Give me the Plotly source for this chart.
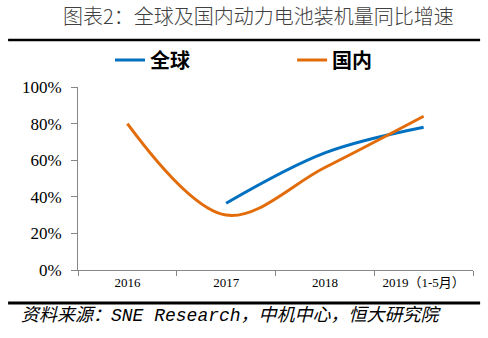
import plotly.graph_objects as go

categories = ["2016", "2017", "2018", "2019（1-5月）"]
global_growth = [None, 0.365, 0.64, 0.78]
domestic_growth = [0.80, 0.30, 0.56, 0.84]
y_ticks = [0, 0.2, 0.4, 0.6, 0.8, 1.0]
y_tick_labels = ["0%", "20%", "40%", "60%", "80%", "100%"]

fig = go.Figure()
fig.add_trace(go.Scatter(x=categories, y=global_growth, name="全球", mode="lines",
                         line=dict(color="#0070C0", width=3, shape="spline", smoothing=1.0),
                         connectgaps=False, legend="legend"))
fig.add_trace(go.Scatter(x=categories, y=domestic_growth, name="国内", mode="lines",
                         line=dict(color="#E36C0A", width=3, shape="spline", smoothing=1.0),
                         legend="legend2"))

legend_font = dict(family="Noto Sans CJK SC", size=20, color="#000", weight="bold")

fig.update_layout(
    width=488, height=338,
    margin=dict(l=78, r=15, t=87, b=68),
    plot_bgcolor="white", paper_bgcolor="white",
    showlegend=True,
    legend=dict(orientation="h", x=0.081, y=1.148, xanchor="left", yanchor="middle",
                font=legend_font, bgcolor="rgba(0,0,0,0)"),
    legend2=dict(orientation="h", x=0.542, y=1.148, xanchor="left", yanchor="middle",
                 font=legend_font, bgcolor="rgba(0,0,0,0)"),
    xaxis=dict(type="category", range=[-0.5, 3.5], showline=True, linecolor="#878787",
               linewidth=1, ticks="outside", tickson="boundaries", ticklen=5,
               tickcolor="#878787", showgrid=False,
               tickfont=dict(family="Liberation Serif, Noto Sans CJK SC", size=13, color="#000")),
    yaxis=dict(range=[0, 1.0], tickvals=y_ticks, ticktext=y_tick_labels, showline=True,
               linecolor="#878787", linewidth=1, ticks="outside", ticklen=6,
               tickcolor="#878787", showgrid=False, zeroline=False, ticklabelstandoff=6,
               tickfont=dict(family="Liberation Serif", size=17, color="#000")),
    annotations=[
        dict(text="图表2：全球及国内动力电池装机量同比增速", xref="paper", yref="paper",
             x=0.456, y=1.39, xanchor="center", yanchor="middle", showarrow=False,
             font=dict(family="Noto Sans CJK SC", size=20, color="#404040", weight=300)),
        dict(text="<i>资料来源：SNE Research，中机中心，恒大研究院</i>", xref="paper", yref="paper",
             x=-0.15, y=-0.246, xanchor="left", yanchor="middle", showarrow=False,
             font=dict(family="Liberation Mono, Noto Sans CJK SC", size=18, color="#000")),
    ],
    shapes=[
        dict(type="line", xref="paper", yref="paper", x0=-0.177, x1=1.018, y0=1.257, y1=1.257,
             line=dict(color="#000", width=2.5)),
        dict(type="line", xref="paper", yref="paper", x0=-0.177, x1=1.018, y0=-0.18, y1=-0.18,
             line=dict(color="#000", width=3)),
    ],
)

fig.write_html("out.html")
